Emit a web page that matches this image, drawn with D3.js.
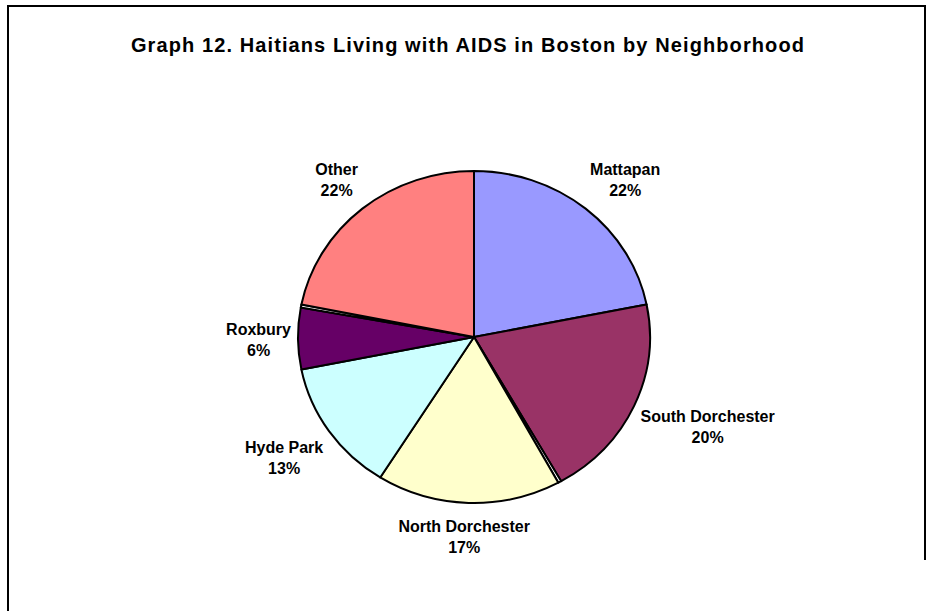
<!DOCTYPE html>
<html>
<head>
<meta charset="utf-8">
<script src="https://cdn.jsdelivr.net/npm/d3@7"></script>
<style>
  html, body { margin: 0; padding: 0; background: #fff; }
  svg { display: block; font-family: "Liberation Sans", Arial, sans-serif; }
</style>
</head>
<body>
<svg id="chart" width="932" height="611"></svg>
<script>
// Neighborhood shares (percent). Unnamed entries are the sliver slices.
const categories = ["Mattapan", "South Dorchester", "", "North Dorchester", "Hyde Park", "Roxbury", "", "Other"];
const values     = [22, 20, 0.3, 17, 13, 6, 0.3, 22];
const colors     = ["#9999FF", "#993366", "#FFFFFF", "#FFFFCC", "#CCFFFF", "#660066", "#FFFFFF", "#FF8080"];
const title = "Graph 12. Haitians Living with AIDS in Boston by Neighborhood";

const svg = d3.select("#chart");
const W = 932, H = 611;

// outer frame
svg.append("path")
  .attr("d", `M8,${H} V6 H925 V560`)
  .attr("fill", "none")
  .attr("stroke", "#000")
  .attr("stroke-width", 2);

svg.append("text")
  .attr("x", 468)
  .attr("y", 52)
  .attr("text-anchor", "middle")
  .attr("font-size", 20)
  .attr("font-weight", "bold")
  .attr("letter-spacing", 1.1)
  .text(title);

const cx = 474, cy = 337;
const ry = 166, rx = 176;
const labelR = 183;

const data = categories.map((c, i) => ({ name: c, value: values[i], color: colors[i] }));
const pie = d3.pie().value(d => d.value).sort(null);
const arcs = pie(data);
const arc = d3.arc().innerRadius(0).outerRadius(ry);

const g = svg.append("g")
  .attr("transform", `translate(${cx},${cy}) scale(${rx / ry},1)`);

g.selectAll("path")
  .data(arcs)
  .join("path")
  .attr("d", arc)
  .attr("fill", d => d.data.color)
  .attr("stroke", "#000")
  .attr("stroke-width", 2)
  .attr("stroke-linejoin", "round")
  .attr("vector-effect", "non-scaling-stroke");

// labels: nearest corner of each label box sits on a ring around the pie
const fs = 16, lineH = 21, cap = 12;
const clamp = v => Math.max(-1, Math.min(1, v));
const labelled = arcs.filter(d => d.data.name !== "");
labelled.forEach(d => {
  const a = (d.startAngle + d.endAngle) / 2;
  const s = Math.sin(a), c = Math.cos(a);
  const ax = cx + labelR * s, ay = cy - labelR * c;
  const t = svg.append("text")
    .attr("font-size", fs)
    .attr("font-weight", "bold")
    .attr("text-anchor", "middle")
    .attr("fill", "#000");
  const l1 = t.append("tspan").text(d.data.name);
  const l2 = t.append("tspan").text(d3.format(".0f")(d.data.value / d3.sum(values) * 100) + "%");
  const w = Math.max(l1.node().getComputedTextLength(), l2.node().getComputedTextLength());
  const hh = (cap + lineH) / 2;
  const bx = ax + (w / 2) * clamp(2 * s);
  const by = ay - hh * clamp(2 * c);
  const top = by - hh;
  l1.attr("x", bx).attr("y", top + cap);
  l2.attr("x", bx).attr("y", top + cap + lineH);
});
</script>
</body>
</html>
